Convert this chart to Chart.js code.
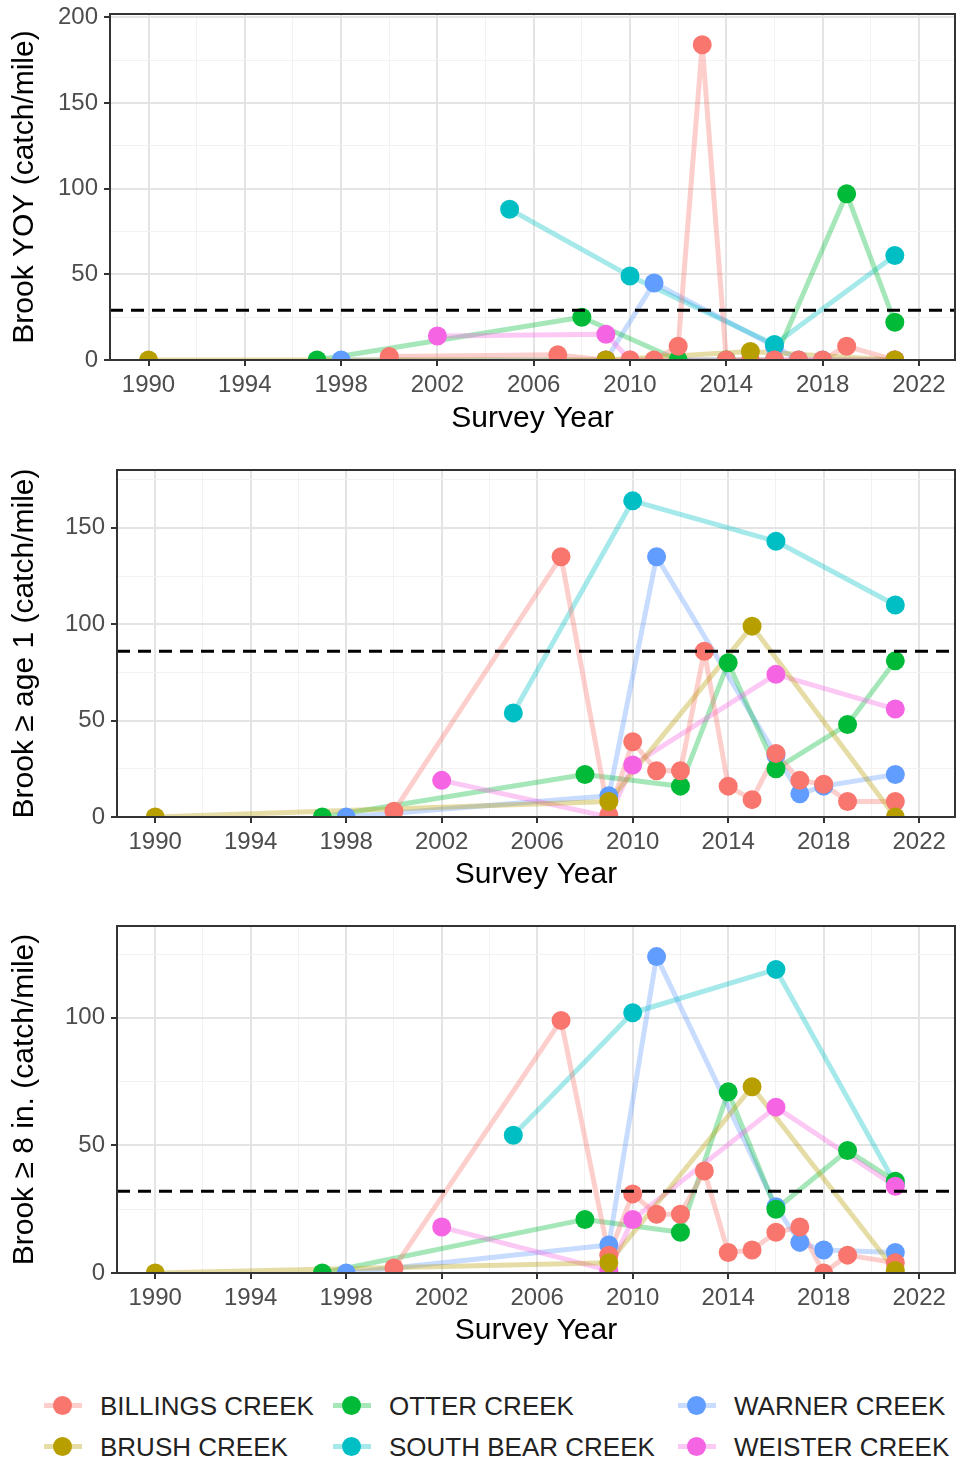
<!DOCTYPE html>
<html>
<head>
<meta charset="utf-8">
<script src="https://cdn.jsdelivr.net/npm/chart.js@4.4.1/dist/chart.umd.min.js"></script>
<style>
    body { margin: 0; background: #fff; width: 956px; height: 1468px; position: relative; overflow: hidden;
           font-family: 'Liberation Sans', Arial, sans-serif; }
    canvas.panel { position: absolute; left: 0; }
    .leg-item { position: absolute; height: 30px; display: flex; align-items: center; }
    .leg-line { position: absolute; left: 0; top: 12px; width: 38px; height: 5px; }
    .leg-dot { position: absolute; left: 9px; top: 5px; width: 19px; height: 19px; border-radius: 50%; }
    .leg-text { position: absolute; left: 56px; top: 0; line-height: 30px; font-size: 26px; color: #222; white-space: nowrap; }
</style>
</head>
<body>
<canvas id="yoy" class="panel" width="956" height="440" style="top:0px"></canvas>
<canvas id="age1" class="panel" width="956" height="440" style="top:456px"></canvas>
<canvas id="in8" class="panel" width="956" height="440" style="top:912px"></canvas>
<div id="legend"></div>

<script>
// --- data (catch/mile by survey year) ---
const CREEKS = ['BILLINGS CREEK', 'BRUSH CREEK', 'OTTER CREEK', 'SOUTH BEAR CREEK', 'WARNER CREEK', 'WEISTER CREEK'];

const BILLINGS_YEARS   = [2000, 2007, 2009, 2010, 2011, 2012, 2013, 2014, 2015, 2016, 2017, 2018, 2019, 2021];
const BRUSH_YEARS      = [1990, 2009, 2015, 2021];
const OTTER_YEARS      = [1997, 2008, 2012, 2014, 2016, 2019, 2021];
const SOUTH_BEAR_YEARS = [2005, 2010, 2016, 2021];
const WARNER_YEARS     = [1998, 2009, 2011, 2016, 2017, 2018, 2021];
const WEISTER_YEARS    = [2002, 2009, 2010, 2016, 2021];

// Brook YOY
const BILLINGS_YOY   = [2, 3, 0, 0, 0, 8, 184, 0, 0, 0, 0, 0, 8, 0];
const BRUSH_YOY      = [0, 0, 5, 0];
const OTTER_YOY      = [0, 25, 0, 0, 0, 97, 22];
const SOUTH_BEAR_YOY = [88, 49, 9, 61];
const WARNER_YOY     = [0, 0, 45, 8, 0, 0, 0];
const WEISTER_YOY    = [14, 15, 0, 0, 0];

// Brook >= age 1
const BILLINGS_AGE1   = [3, 135, 1, 39, 24, 24, 86, 16, 9, 33, 19, 17, 8, 8];
const BRUSH_AGE1      = [0, 8, 99, 0];
const OTTER_AGE1      = [0, 22, 16, 80, 25, 48, 81];
const SOUTH_BEAR_AGE1 = [54, 164, 143, 110];
const WARNER_AGE1     = [0, 11, 135, 32, 12, 16, 22];
const WEISTER_AGE1    = [19, 0, 27, 74, 56];

// Brook >= 8 in.
const BILLINGS_IN8   = [2, 99, 7, 31, 23, 23, 40, 8, 9, 16, 18, 0, 7, 4];
const BRUSH_IN8      = [0, 4, 73, 1];
const OTTER_IN8      = [0, 21, 16, 71, 25, 48, 36];
const SOUTH_BEAR_IN8 = [54, 102, 119, 35];
const WARNER_IN8     = [0, 11, 124, 26, 12, 9, 8];
const WEISTER_IN8    = [18, 1, 21, 65, 34];

// dashed reference lines
const THRESHOLDS = [29, 86, 32];

// axis ticks
const X_MAJOR = [1990, 1994, 1998, 2002, 2006, 2010, 2014, 2018, 2022];
const X_MINOR = [1992, 1996, 2000, 2004, 2008, 2012, 2016, 2020];
const Y_MAJOR_YOY  = [0, 50, 100, 150, 200];
const Y_MINOR_YOY  = [25, 75, 125, 175];
const Y_MAJOR_AGE1 = [0, 50, 100, 150];
const Y_MINOR_AGE1 = [25, 75, 125, 175];
const Y_MAJOR_IN8  = [0, 50, 100];
const Y_MINOR_IN8  = [25, 75, 125];

// --- style ---
const COLORS = ['#F8766D', '#B79F00', '#00BA38', '#00BFC4', '#619CFF', '#F564E3'];
const POINT_ORDER = [2, 1, 4, 5, 6, 3];   // lower = drawn on top
const X_MIN = 1988.4, X_MAX = 2023.5;
const FONT = "'Liberation Sans', Arial, sans-serif";

const YEARS = [BILLINGS_YEARS, BRUSH_YEARS, OTTER_YEARS, SOUTH_BEAR_YEARS, WARNER_YEARS, WEISTER_YEARS];

const PANELS = [
    { id: 'yoy',  title: 'Brook YOY (catch/mile)',      yMax: 202, areaTop: 14, areaBottom: 360, areaLeft: 110, canvasTop: 0,
      yMajor: Y_MAJOR_YOY, yMinor: Y_MINOR_YOY,
      values: [BILLINGS_YOY, BRUSH_YOY, OTTER_YOY, SOUTH_BEAR_YOY, WARNER_YOY, WEISTER_YOY] },
    { id: 'age1', title: 'Brook \u2265 age 1 (catch/mile)', yMax: 180, areaTop: 470, areaBottom: 817, areaLeft: 117, canvasTop: 456,
      yMajor: Y_MAJOR_AGE1, yMinor: Y_MINOR_AGE1,
      values: [BILLINGS_AGE1, BRUSH_AGE1, OTTER_AGE1, SOUTH_BEAR_AGE1, WARNER_AGE1, WEISTER_AGE1] },
    { id: 'in8',  title: 'Brook \u2265 8 in. (catch/mile)', yMax: 136, areaTop: 926, areaBottom: 1273, areaLeft: 117, canvasTop: 912,
      yMajor: Y_MAJOR_IN8, yMinor: Y_MINOR_IN8,
      values: [BILLINGS_IN8, BRUSH_IN8, OTTER_IN8, SOUTH_BEAR_IN8, WARNER_IN8, WEISTER_IN8] }
];

function rgba(hex, a) {
    const n = parseInt(hex.slice(1), 16);
    return `rgba(${(n >> 16) & 255}, ${(n >> 8) & 255}, ${n & 255}, ${a})`;
}

// no extra room for overhanging tick labels, the plot box is fixed
function noPadding(s) {
    s.paddingLeft = 0; s.paddingRight = 0; s.paddingTop = 0; s.paddingBottom = 0;
}

// ggplot style panel border, drawn over the data
const panelBorder = {
    id: 'panelBorder',
    afterDatasetsDraw(chart) {
        const { ctx, chartArea: a } = chart;
        ctx.save();
        ctx.strokeStyle = '#333333';
        ctx.lineWidth = 2;
        ctx.strokeRect(a.left, a.top, a.right - a.left, a.bottom - a.top);
        ctx.restore();
    }
};

function buildDatasets(panel, idx) {
    const sets = [];
    CREEKS.forEach((name, i) => {
        const pts = YEARS[i].map((yr, k) => ({ x: yr, y: panel.values[i][k] }));
        sets.push({
            label: name + ' line', data: pts, showLine: true,
            borderColor: rgba(COLORS[i], 0.35), borderWidth: 5, borderJoinStyle: 'round',
            pointRadius: 0, order: 10 + POINT_ORDER[i], clip: 0
        });
        sets.push({
            label: name, data: pts, showLine: false,
            backgroundColor: COLORS[i], borderWidth: 0,
            pointRadius: 9.5, pointHoverRadius: 9.5, order: POINT_ORDER[i], clip: 0
        });
    });
    sets.push({
        label: 'threshold',
        data: [{ x: X_MIN, y: THRESHOLDS[idx] }, { x: X_MAX, y: THRESHOLDS[idx] }],
        showLine: true, borderColor: '#000000', borderWidth: 3, borderDash: [13, 8],
        pointRadius: 0, order: -1, clip: 0
    });
    return sets;
}

PANELS.forEach((panel, idx) => {
    const canvasH = 440;
    const xHeight = panel.canvasTop + canvasH - panel.areaBottom;
    const xTicks = X_MAJOR.concat(X_MINOR).sort((a, b) => a - b);
    const yTicks = panel.yMajor.concat(panel.yMinor).sort((a, b) => a - b);
    const isXMajor = v => X_MAJOR.includes(v);
    const isYMajor = v => panel.yMajor.includes(v);

    new Chart(document.getElementById(panel.id), {
        type: 'scatter',
        data: { datasets: buildDatasets(panel, idx) },
        options: {
            responsive: false,
            animation: false,
            devicePixelRatio: 1,
            layout: {
                autoPadding: false,
                padding: { top: panel.areaTop - panel.canvasTop, right: 1, left: 0, bottom: 0 }
            },
            plugins: { legend: { display: false }, tooltip: { enabled: false } },
            scales: {
                x: {
                    type: 'linear', position: 'bottom', min: X_MIN, max: X_MAX,
                    afterBuildTicks: s => { s.ticks = xTicks.map(v => ({ value: v })); },
                    afterFit: s => { s.height = xHeight; noPadding(s); },
                    border: { display: false },
                    grid: {
                        color: c => (c.tick && isXMajor(c.tick.value)) ? '#E4E4E4' : '#F2F2F2',
                        lineWidth: c => (c.tick && isXMajor(c.tick.value)) ? 2 : 1,
                        tickColor: c => (c.tick && isXMajor(c.tick.value)) ? '#333333' : 'rgba(0,0,0,0)',
                        tickLength: 6, tickWidth: 2
                    },
                    ticks: {
                        autoSkip: false, maxRotation: 0, padding: 5, color: '#4D4D4D',
                        font: { family: FONT, size: 24 },
                        callback: v => isXMajor(v) ? String(v) : ''
                    },
                    title: {
                        display: true, text: 'Survey Year', color: '#000000',
                        font: { family: FONT, size: 30 }, padding: { top: 0, bottom: 3 }
                    }
                },
                y: {
                    type: 'linear', min: 0, max: panel.yMax,
                    afterBuildTicks: s => { s.ticks = yTicks.map(v => ({ value: v })); },
                    afterFit: s => { s.width = panel.areaLeft; noPadding(s); },
                    border: { display: false },
                    grid: {
                        color: c => (c.tick && isYMajor(c.tick.value)) ? '#E4E4E4' : '#F2F2F2',
                        lineWidth: c => (c.tick && isYMajor(c.tick.value)) ? 2 : 1,
                        tickColor: c => (c.tick && isYMajor(c.tick.value)) ? '#333333' : 'rgba(0,0,0,0)',
                        tickLength: 6, tickWidth: 2
                    },
                    ticks: {
                        autoSkip: false, padding: 6, color: '#4D4D4D',
                        font: { family: FONT, size: 24 },
                        callback: v => isYMajor(v) ? String(v) : ''
                    },
                    title: {
                        display: true, text: panel.title, color: '#000000',
                        font: { family: FONT, size: 30 }, padding: { top: 7, bottom: 0 }
                    }
                }
            }
        },
        plugins: [panelBorder]
    });
});

// legend, laid out in 3 columns x 2 rows like the original
const LEGEND_COL_X = [44, 333, 678];
const LEGEND_ROW_Y = [1391, 1432];
const legend = document.getElementById('legend');
CREEKS.forEach((name, i) => {
    const item = document.createElement('div');
    item.className = 'leg-item';
    item.style.left = LEGEND_COL_X[Math.floor(i / 2)] + 'px';
    item.style.top = LEGEND_ROW_Y[i % 2] + 'px';
    item.innerHTML = `<span class="leg-line" style="background:${rgba(COLORS[i], 0.35)}"></span>` +
                     `<span class="leg-dot" style="background:${COLORS[i]}"></span>` +
                     `<span class="leg-text">${name}</span>`;
    legend.appendChild(item);
});
</script>
</body>
</html>
